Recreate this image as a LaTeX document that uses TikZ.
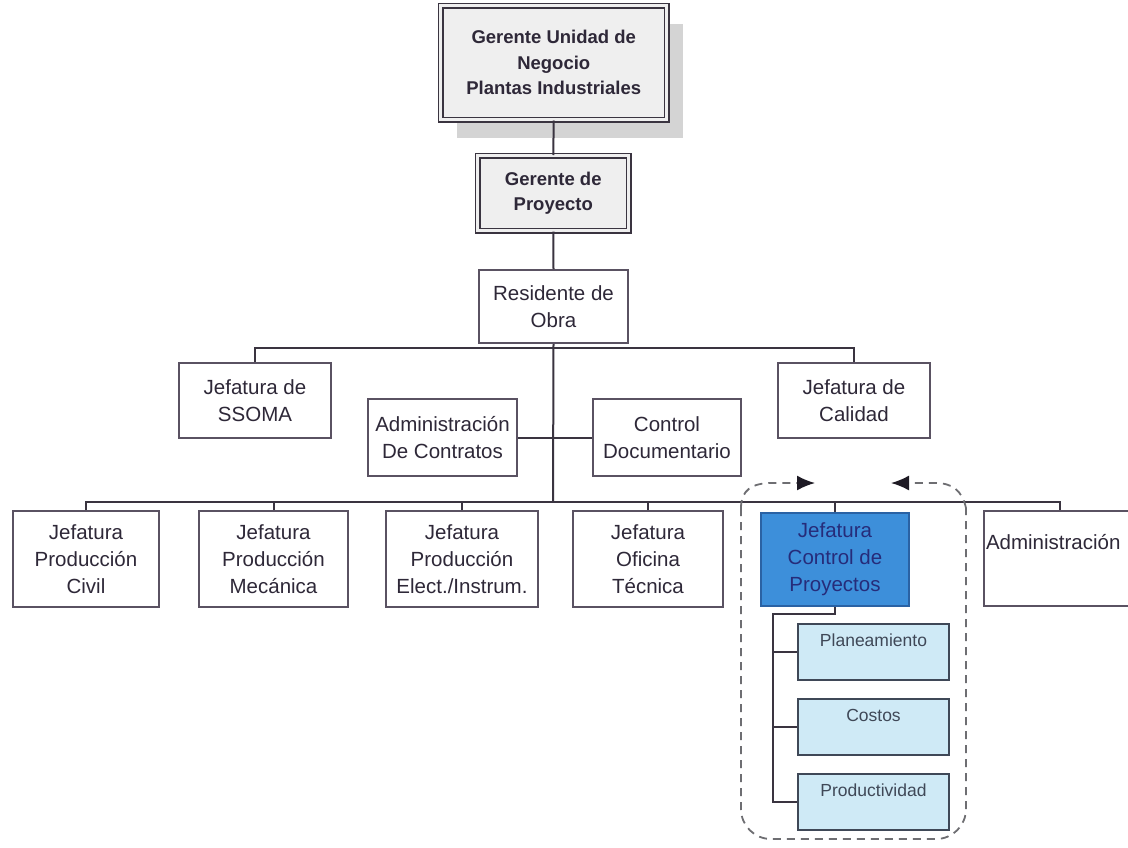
\documentclass[tikz,border=0pt]{standalone}
\usepackage{fontspec}
\setmainfont{Liberation Sans}
\usetikzlibrary{arrows.meta,shadows}

\definecolor{ink}{HTML}{2E2838}
\definecolor{edge}{HTML}{5A5262}
\definecolor{wire}{HTML}{3A3440}
\definecolor{shade}{HTML}{D4D4D4}
\definecolor{paper}{HTML}{EFEFEF}
\definecolor{bluefill}{HTML}{3D8FDA}
\definecolor{blueedge}{HTML}{2A62A4}
\definecolor{bluetext}{HTML}{262C7A}
\definecolor{palefill}{HTML}{CFEAF6}
\definecolor{paleedge}{HTML}{3F4857}
\definecolor{dashc}{HTML}{6E6E72}
\definecolor{tipc}{HTML}{1E1A24}

\tikzset{
  unit/.style={draw=edge, line width=2pt, fill=white, text=ink, align=center,
    inner sep=0pt, anchor=north west,
    font=\fontsize{20.5}{27}\selectfont},
  headbox/.style={unit, draw=wire, fill=paper, double=paper, double distance=2.6pt,
    line width=1.5pt, font=\bfseries\fontsize{18.5}{25.5}\selectfont},
  bluebox/.style={unit, draw=blueedge, fill=bluefill, text=bluetext},
  subbox/.style={unit, draw=paleedge, fill=palefill, minimum width=151pt,
    minimum height=56pt},
  subtext/.style={text=paleedge, font=\fontsize{17.5}{20}\selectfont, inner sep=0pt},
  link/.style={draw=wire, line width=2pt},
  ring/.style={draw=dashc, line width=1.8pt, dash pattern=on 8pt off 6pt},
  pointer/.style={ring, -{Latex[length=18pt,width=15pt,color=tipc]}}
}

\begin{document}
\begin{tikzpicture}[x=1pt,y=-1pt]
\path[use as bounding box] (0,0) rectangle (1128,847);
\clip (0,0) rectangle (1128,847);
\fill[white] (0,0) rectangle (1128,847);

% top of the hierarchy
\node[headbox, minimum width=226pt, minimum height=114pt,
  drop shadow={shadow xshift=16pt, shadow yshift=-18pt, fill=shade, opacity=1}]
  (gun) at (440,5) {Gerente Unidad de\\Negocio\\Plantas Industriales};
\node[headbox, minimum width=151pt, minimum height=75pt] (gp) at (477,155)
  {Gerente de\\Proyecto};
\node[unit, minimum width=149pt, minimum height=73pt] (res) at (478,269)
  {Residente de\\Obra};

% staff level
\node[unit, minimum width=152pt, minimum height=75pt] (ssoma) at (178,362)
  {Jefatura de\\SSOMA};
\node[unit, minimum width=152pt, minimum height=75pt] (cal) at (777,362)
  {Jefatura de\\Calidad};
\node[unit, minimum width=149pt, minimum height=77pt] (adc) at (367,398)
  {Administración\\De Contratos};
\node[unit, minimum width=148pt, minimum height=77pt] (cdoc) at (592,398)
  {Control\\Documentario};

% line level
\node[unit, minimum width=146pt, minimum height=96pt] (civ) at (12,510)
  {Jefatura\\Producción\\Civil};
\node[unit, minimum width=149pt, minimum height=96pt] (mec) at (198,510)
  {Jefatura\\Producción\\Mecánica};
\node[unit, minimum width=152pt, minimum height=96pt] (ele) at (385,510)
  {Jefatura\\Producción\\Elect./Instrum.};
\node[unit, minimum width=150pt, minimum height=96pt] (ofi) at (572,510)
  {Jefatura\\Oficina\\Técnica};
\node[bluebox, minimum width=148pt, minimum height=93pt] (ctl) at (760,512)
  {Jefatura\\Control de\\Proyectos};
\node[unit, minimum width=152pt, minimum height=95pt] (adm) at (983,510) {};
\node[unit, draw=none, fill=none, anchor=west] (admtxt) at (985,542)
  {Administración};

% project control sections
\node[subbox] (pla) at (797,623) {};
\node[subbox] (cos) at (797,698) {};
\node[subbox] (pro) at (797,773) {};
\node[subtext] (platxt) at ([yshift=-17pt]pla.north) {Planeamiento};
\node[subtext] (costxt) at ([yshift=-17pt]cos.north) {Costos};
\node[subtext] (protxt) at ([yshift=-17pt]pro.north) {Productividad};

% connectors
\coordinate (busA) at (553,348);
\coordinate (busB) at (553,502);
\coordinate (spine) at (773,614);

\draw[link] (gun.south) -- (gp.north);
\draw[link] (gp.south) -- (res.north);
\draw[link] (res.south) -- (busB);
\draw[link] (ssoma.north) |- (busA) -| (cal.north);
\draw[link] (adc.east) -- (cdoc.west);
\draw[link] (civ.north) |- (busB) -| (adm.north);
\foreach \n in {mec,ele,ofi,ctl}
  \draw[link] (\n.north) -- (\n.north |- busB);

\draw[link] (ctl.south) |- (spine) -- (spine |- pro.west) -- (pro.west);
\draw[link] (spine |- pla.west) -- (pla.west);
\draw[link] (spine |- cos.west) -- (cos.west);

% dashed outline round the project control group
\coordinate (ringL) at (741,508);
\coordinate (ringR) at (966,508);
\draw[ring, rounded corners=30pt] (ringL) -- (741,839) -- (966,839) -- (ringR);
\draw[pointer] (ringL) .. controls (741,490) and (752,483) .. (772,483) -- (815,483);
\draw[pointer] (ringR) .. controls (962,490) and (952,483) .. (935,483) -- (891,483);
\end{tikzpicture}
\end{document}
